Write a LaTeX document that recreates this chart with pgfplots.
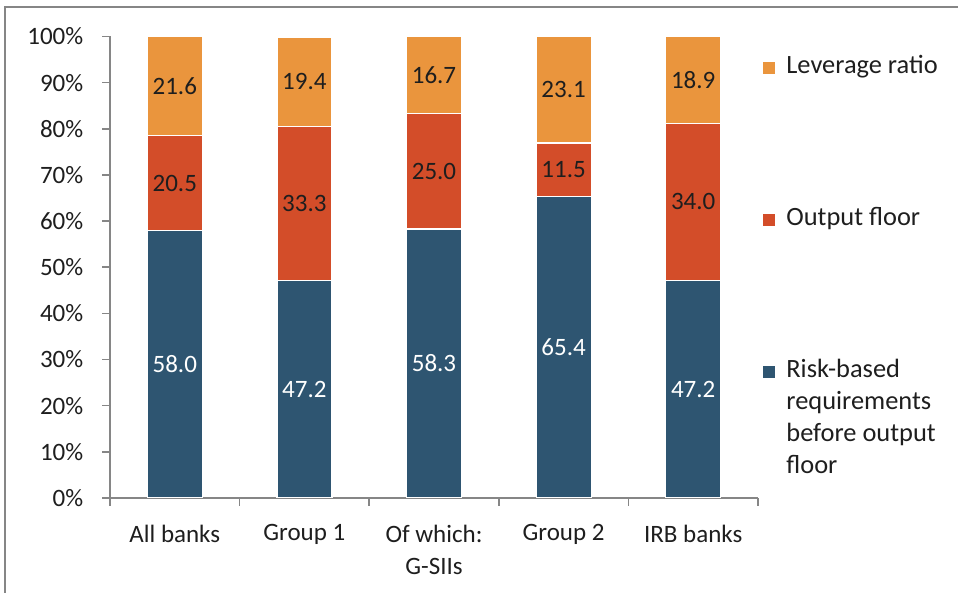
\documentclass[border=0pt]{standalone}
\usepackage{pgfplots}
\pgfplotsset{compat=1.18}
\usepackage{fontspec}
\setmainfont{Carlito}
\definecolor{cblue}{HTML}{2E5571}
\definecolor{cred}{HTML}{D34D29}
\definecolor{corange}{HTML}{EA953D}
\definecolor{axgray}{HTML}{868686}
\definecolor{txt}{HTML}{1E1E1E}
\pgfplotstableread{
x blue red orange
0 58.0 20.5 21.6
1 47.2 33.3 19.4
2 58.3 25.0 16.7
3 65.4 11.5 23.1
4 47.2 34.0 18.9
}\datatable
\begin{document}
\fontsize{12.5}{16}\selectfont
\begin{tikzpicture}[x=1pt,y=1pt]
\useasboundingbox (0,0) rectangle (479,296.5);
\draw[axgray, line width=0.8pt] (2.5,0) -- (2.5,293) -- (479,293);
\begin{axis}[
  at={(55pt,47.5pt)}, anchor=south west,
  scale only axis, width=324pt, height=231pt,
  xmin=-0.5, xmax=4.5, ymin=0, ymax=100.1,
  ybar stacked, bar width=27.5pt,
  axis x line*=bottom, axis y line*=left,
  axis line style={axgray, line width=0.75pt, -},
  tick align=outside,
  major tick length=4pt, minor tick length=4pt,
  every tick/.style={axgray, line width=0.75pt},
  xtick={0,1,2,3,4},
  xticklabels={All banks, Group 1, {Of which:\\G-SIIs}, Group 2, IRB banks},
  xticklabel style={align=center, text=txt, font=\fontsize{12.5}{16}\selectfont, yshift=-5pt},
  major x tick style={draw=none},
  minor xtick={-0.5,0.5,1.5,2.5,3.5,4.5},
  ytick={0,10,...,100},
  yticklabels={0\%,10\%,20\%,30\%,40\%,50\%,60\%,70\%,80\%,90\%,100\%},
  yticklabel style={text=txt, font=\fontsize{12.5}{16}\selectfont, xshift=-5pt},
  visualization depends on={rawy \as \rawy},
  nodes near coords={\pgfmathprintnumber[assume math mode=true,fixed,fixed zerofill,precision=1]{\rawy}},
  every node near coord/.append style={anchor=center, text=txt,
     font=\fontsize{12.5}{16}\selectfont},
  clip=true,
]
\addplot[fill=cblue, draw=white, line width=0.6pt,
  every node near coord/.append style={text=white}] table[x=x,y=blue]{\datatable};
\addplot[fill=cred, draw=white, line width=0.6pt] table[x=x,y=red]{\datatable};
\addplot[fill=corange, draw=white, line width=0.6pt] table[x=x,y=orange]{\datatable};
\end{axis}
% legend
\fill[corange] (381.5,259.5) rectangle (387.5,265.5);
\node[anchor=base west, inner sep=0, text=txt, font=\fontsize{13.2}{16}\selectfont] at (393,259.5) {Leverage ratio};
\fill[cred] (381.5,183.5) rectangle (387.5,189.5);
\node[anchor=base west, inner sep=0, text=txt, font=\fontsize{13.2}{16}\selectfont] at (393,183.5) {Output floor};
\fill[cblue] (381.5,107.5) rectangle (387.5,113.5);
\node[anchor=base west, inner sep=0, text=txt, font=\fontsize{13.2}{16}\selectfont] at (393,107.5) {Risk-based};
\node[anchor=base west, inner sep=0, text=txt, font=\fontsize{13.2}{16}\selectfont] at (393,91.5) {requirements};
\node[anchor=base west, inner sep=0, text=txt, font=\fontsize{13.2}{16}\selectfont] at (393,75.5) {before output};
\node[anchor=base west, inner sep=0, text=txt, font=\fontsize{13.2}{16}\selectfont] at (393,59.5) {floor};
\end{tikzpicture}
\end{document}
